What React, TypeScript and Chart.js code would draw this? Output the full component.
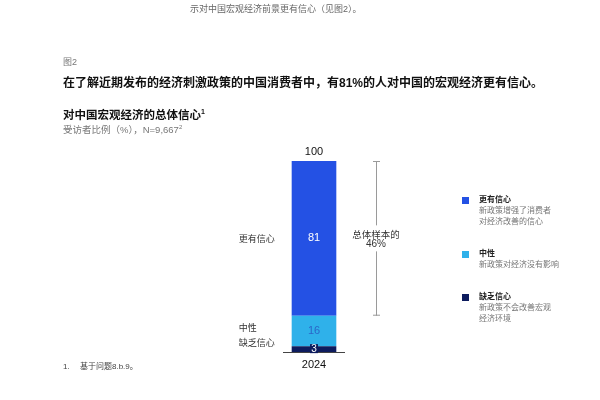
import React, { useEffect, useRef } from "react";
import { Chart, registerables } from "chart.js";

Chart.register(...registerables);

// ---- data ----
const years = ["2024"];
const seriesNames = ["缺乏信心", "中性", "更有信心"];
const lowConfidence = [3];
const neutral = [16];
const moreConfidence = [81];
const totals = [100];
const bracketLines = ["总体样本的", "46%"];
const legendTitles = ["更有信心", "中性", "缺乏信心"];
const legendDescs = [
  ["新政策增强了消费者", "对经济改善的信心"],
  ["新政策对经济没有影响"],
  ["新政策不会改善宏观", "经济环境"],
];

const C_MORE = "#2451e4";
const C_NEU = "#2fb1ea";
const C_LOW = "#0d1c5e";
const legendColors = [C_MORE, C_NEU, C_LOW];

const FONT = '"Liberation Sans", "Noto Sans CJK SC", sans-serif';
const CJK = '"Noto Sans CJK SC", "Liberation Sans", sans-serif';

const annotate = {
  id: "annotate",
  afterDatasetsDraw(chart: any) {
    const ctx = chart.ctx;
    const area = chart.chartArea;
    const xs = chart.scales.x;
    const base = chart.scales.y.getPixelForValue(0);
    ctx.save();
    const metas = [0, 1, 2].map((i) => chart.getDatasetMeta(i).data[0]);
    const mids = metas.map((b: any) => (b.y + b.base) / 2);
    const cx = metas[0].x;
    const halfW = metas[0].width / 2;

    // baseline axis and category label
    ctx.strokeStyle = "#444";
    ctx.lineWidth = 1;
    ctx.beginPath();
    ctx.moveTo(area.left, base + 0.5);
    ctx.lineTo(area.right, base + 0.5);
    ctx.stroke();
    ctx.textAlign = "center";
    ctx.textBaseline = "middle";
    ctx.font = `11px ${FONT}`;
    ctx.fillStyle = "#111";
    years.forEach((y, i) => ctx.fillText(y, xs.getPixelForValue(i), base + 13));

    // values inside segments
    ctx.fillStyle = "#ffffff";
    ctx.fillText(String(moreConfidence[0]), cx, mids[2]);
    ctx.fillStyle = "#2a67c9";
    ctx.fillText(String(neutral[0]), cx, mids[1]);
    ctx.font = `10px ${FONT}`;
    ctx.fillStyle = C_LOW;
    ctx.fillRect(cx - 4, mids[0] - 5, 8, 9);
    ctx.fillStyle = "#ffffff";
    ctx.fillText(String(lowConfidence[0]), cx, mids[0]);

    // total above bar
    const top = metas[2].y;
    ctx.font = `11px ${FONT}`;
    ctx.fillStyle = "#111";
    ctx.fillText(String(totals[0]), cx, top - 9);

    // left category labels
    ctx.font = `9px ${CJK}`;
    ctx.fillStyle = "#333";
    ctx.textAlign = "left";
    const labelX = cx - halfW - 53;
    const yLow = Math.min(mids[0], base - 9);
    const yNeu = Math.min(mids[1], yLow - 15);
    ctx.fillText(seriesNames[2], labelX, mids[2]);
    ctx.fillText(seriesNames[1], labelX, yNeu);
    ctx.fillText(seriesNames[0], labelX, yLow);

    // bracket around "more confident" segment
    const bx = area.right + 31;
    const y1 = metas[2].y;
    const y2 = metas[2].base;
    ctx.strokeStyle = "#9a9a9a";
    ctx.lineWidth = 1;
    ctx.beginPath();
    ctx.moveTo(bx + 0.5, y1);
    ctx.lineTo(bx + 0.5, y2);
    ctx.moveTo(bx - 3, y1 + 0.5);
    ctx.lineTo(bx + 4, y1 + 0.5);
    ctx.moveTo(bx - 3, y2 - 0.5);
    ctx.lineTo(bx + 4, y2 - 0.5);
    ctx.stroke();
    const ym = (y1 + y2) / 2;
    ctx.fillStyle = "#ffffff";
    ctx.fillRect(bx - 28, ym - 13, 56, 26);
    ctx.textAlign = "center";
    ctx.fillStyle = "#333";
    ctx.font = `9.5px ${CJK}`;
    ctx.fillText(bracketLines[0], bx, ym - 4);
    ctx.font = `10px ${FONT}`;
    ctx.fillText(bracketLines[1], bx, ym + 6);
    ctx.restore();
  },
};

function T(props: {
  x: number;
  y: number;
  size: number;
  bold?: boolean;
  color?: string;
  children: React.ReactNode;
}) {
  const lh = props.size + 4;
  return (
    <div
      style={{
        position: "absolute",
        left: props.x,
        top: props.y - lh / 2,
        fontSize: props.size,
        lineHeight: lh + "px",
        fontWeight: props.bold ? 700 : 400,
        color: props.color || "#222",
        fontFamily: FONT,
        whiteSpace: "nowrap",
      }}
    >
      {props.children}
    </div>
  );
}

export default function App() {
  const ref = useRef<HTMLCanvasElement>(null);
  useEffect(() => {
    if (!ref.current) return;
    const chart = new Chart(ref.current, {
      type: "bar",
      data: {
        labels: years,
        datasets: [
          { label: seriesNames[0], data: lowConfidence, backgroundColor: C_LOW },
          { label: seriesNames[1], data: neutral, backgroundColor: C_NEU },
          { label: seriesNames[2], data: moreConfidence, backgroundColor: C_MORE },
        ],
      },
      options: {
        responsive: false,
        animation: false,
        layout: { padding: { left: 283, right: 255, top: 161, bottom: 48 } },
        plugins: { legend: { display: false }, tooltip: { enabled: false } },
        datasets: { bar: { barPercentage: 0.72, categoryPercentage: 1 } },
        scales: {
          x: { stacked: true, display: false },
          y: { stacked: true, display: false, min: 0, max: 100 },
        },
      },
      plugins: [annotate],
    });
    return () => chart.destroy();
  }, []);

  return (
    <div
      style={{
        position: "absolute",
        left: 0,
        top: 0,
        width: 600,
        height: 400,
        background: "#fff",
        overflow: "hidden",
      }}
    >
      <canvas ref={ref} width={600} height={400} style={{ position: "absolute", left: 0, top: 0 }} />
      <T x={190} y={9} size={9} color="#666">示对中国宏观经济前景更有信心（见图2）。</T>
      <T x={63} y={62} size={9} color="#777">图2</T>
      <T x={63} y={83} size={12} bold color="#111">
        在了解近期发布的经济刺激政策的中国消费者中，有81%的人对中国的宏观经济更有信心。
      </T>
      <T x={63} y={112} size={11.5} bold color="#111">
        对中国宏观经济的总体信心<sup style={{ fontSize: 7 }}>1</sup>
      </T>
      <T x={63} y={128} size={9.5} color="#777">
        受访者比例（%），N=9,667<sup style={{ fontSize: 6 }}>2</sup>
      </T>
      {legendTitles.map((t, i) => {
        const ys = [200, 254, 297];
        const y = ys[i];
        return (
          <React.Fragment key={t}>
            <div
              style={{
                position: "absolute",
                left: 462,
                top: y - 3.5,
                width: 7,
                height: 7,
                background: legendColors[i],
              }}
            />
            <T x={479} y={y} size={8} bold color="#222">{t}</T>
            {legendDescs[i].map((d, j) => (
              <T key={d} x={479} y={y + 11 + j * 10.5} size={8} color="#777">{d}</T>
            ))}
          </React.Fragment>
        );
      })}
      <T x={63} y={367} size={8} color="#444">1.</T>
      <T x={80} y={367} size={8} color="#444">基于问题8.b.9。</T>
    </div>
  );
}
